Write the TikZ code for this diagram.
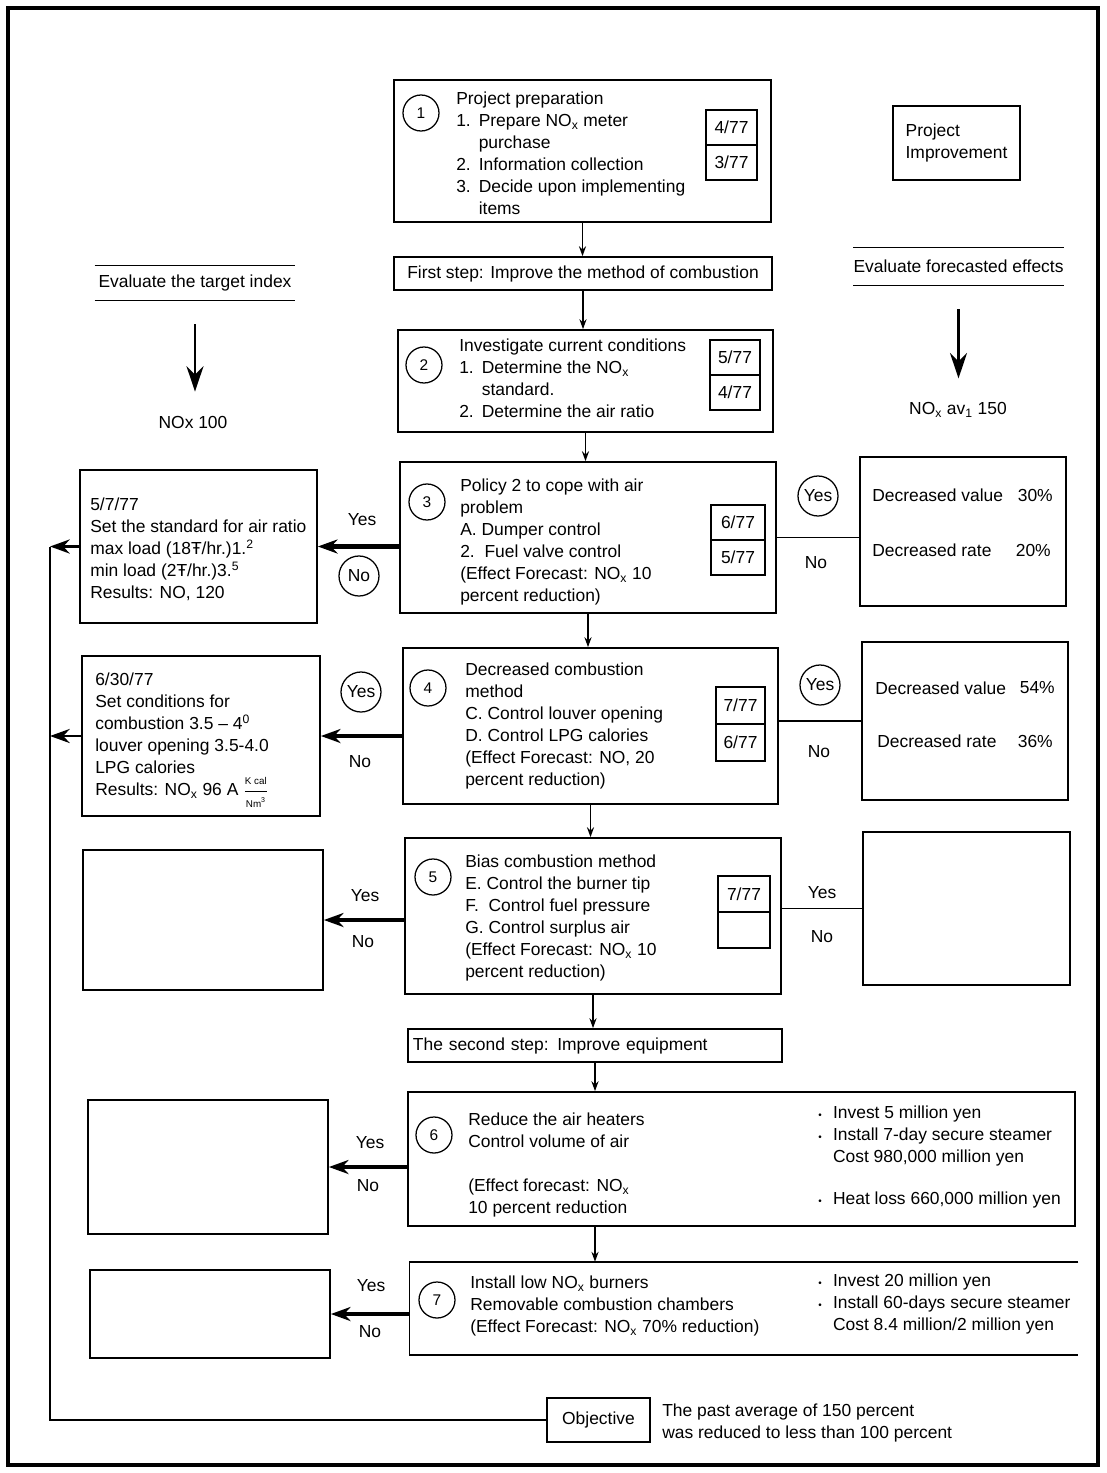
\documentclass[tikz,border=0pt]{standalone}
\usepackage{fontspec}
\setmainfont{Liberation Sans}
\usetikzlibrary{positioning,arrows.meta}

\newcommand{\lnum}[1]{\makebox[16pt][l]{#1}}
\newcommand{\bul}{\makebox[10.5pt][l]{\raisebox{0.5pt}{\scriptsize\textbullet}}}
\newcommand{\NOx}{NO\textsubscript{x}}

\begin{document}
\begin{tikzpicture}[
  x=0.025cm, y=-0.025cm,
  >={Stealth[length=7pt,width=5pt]},
  every node/.style={font=\fontsize{12.4}{15.6}\selectfont,inner sep=0pt},
  box/.style={draw,line width=1.2pt},
  datebox/.style={draw,line width=1.2pt,minimum width=1.3cm,minimum height=0.88cm},
  stepno/.style={circle,draw,line width=0.9pt,minimum size=0.9cm,
                 font=\fontsize{11}{13}\selectfont},
  answer/.style={circle,draw,line width=0.9pt,minimum size=1cm},
  txt/.style={align=left,anchor=north west},
  flow/.style={->,line width=1.3pt},
  result/.style={-{Stealth[length=14pt,width=10pt]},line width=3pt},
  branch/.style={line width=1.4pt},
  feedback/.style={-{Stealth[length=14pt,width=10pt]},line width=2pt},
  evaldown/.style={-{Stealth[length=18pt,width=12pt]},line width=2pt,
                   shorten <=17pt,shorten >=17pt}]

\useasboundingbox (0,0) rectangle (1106,1473);
\draw[line width=2.2pt] (8,8) rectangle (1098,1465);

% ============ Header: target index and forecasted effects ============
\node[minimum width=5cm,minimum height=0.85cm] (evt) at (195,283) {Evaluate the target index};
\draw[line width=1pt] (evt.north west) -- (evt.north east) (evt.south west) -- (evt.south east);
\node (nox100) at (193,422) {NOx 100};
\draw[evaldown] (evt.south) -- (evt.south |- nox100.north);

\node[box,minimum width=3.175cm,minimum height=1.85cm,align=left] (proj) at (956.5,143) {Project\\ Improvement};
\node[minimum width=5.175cm,minimum height=0.925cm] (eff) at (958.5,266.5) {Evaluate forecasted effects};
\draw[line width=1pt] (eff.north west) -- (eff.north east) (eff.south west) -- (eff.south east);
\node (nox150) at (958,410) {NO\textsubscript{x} av\textsubscript{1} 150};
\draw[evaldown] (eff.south) -- (eff.south |- nox150.north);

% ============ Step 1: project preparation ============
\node[box,minimum width=9.425cm,minimum height=3.55cm] (b1) at (582.5,151) {};
\node[stepno] (c1) at (421,113) {1};
\node[txt] (t1) at (456,92) {Project preparation\\ \lnum{1.}Prepare \NOx{} meter\\ \lnum{}purchase\\
  \lnum{2.}Information collection\\ \lnum{3.}Decide upon implementing\\ \lnum{}items};
\node[datebox,minimum width=1.275cm] (d1a) at (731.5,127.5) {4/77};
\node[datebox,minimum width=1.275cm,below=-1.2pt of d1a] (d1b) {3/77};

\node[box,minimum width=9.45cm,minimum height=0.825cm] (first) at (583,273.5) {First step: Improve the method of combustion};
\draw[flow] (b1.south) -- (b1.south |- first.north);

% ============ Step 2: current conditions ============
\node[box,minimum width=9.375cm,minimum height=2.55cm] (b2) at (585.5,381) {};
\node[stepno] (c2) at (424,365) {2};
\node[txt] (t2) at (459,339) {Investigate current conditions\\ \lnum{1.}Determine the \NOx\\ \lnum{}standard.\\
  \lnum{2.}Determine the air ratio};
\node[datebox,minimum width=1.25cm] (d2a) at (735,357.5) {5/77};
\node[datebox,minimum width=1.25cm,below=-1.2pt of d2a] (d2b) {4/77};
\draw[flow] (first.south) -- (first.south |- b2.north);

% ============ Step 3: air problem ============
\node[box,minimum width=9.4cm,minimum height=3.775cm] (b3) at (588,537.5) {};
\node[stepno] (c3) at (427,502) {3};
\node[txt] (t3) at (460,479) {Policy 2 to cope with air\\ problem\\ A.\ Dumper control\\ 2.\ \ Fuel valve control\\
  (Effect Forecast: \NOx{} 10\\ percent reduction)};
\node[datebox,minimum width=1.35cm] (d3a) at (738,522.5) {6/77};
\node[datebox,minimum width=1.35cm,below=-1.2pt of d3a] (d3b) {5/77};
\draw[flow] (b2.south) -- (b2.south |- b3.north);

\node[box,minimum width=5.925cm,minimum height=3.825cm] (l3) at (198.5,546.5) {};
\node[txt] (tl3) at (90,498) {5/7/77\\ Set the standard for air ratio\\ max load (18Ŧ/hr.)1.\textsuperscript{2}\\
  min load (2Ŧ/hr.)3.\textsuperscript{5}\\ Results: NO, 120};
\node (y3l) at (362,520) {Yes};
\node[answer] (n3l) at (359,576) {No};
\draw[result] (l3.east -| b3.west) -- (l3.east);

\node[box,minimum width=5.15cm,minimum height=3.725cm] (r3) at (963,531.5) {};
\node[anchor=west] (v3) at (872,495) {Decreased value};
\node[anchor=east] (pv3) at (1053,495) {30\%};
\node[anchor=west] (q3) at (872,550) {Decreased rate};
\node[anchor=east] (pq3) at (1051,550) {20\%};
\node[answer] (y3r) at (818,496) {Yes};
\node (n3r) at (816,563) {No};
\draw[branch] (b3.east) -- (b3.east -| r3.west);

% ============ Step 4: decreased combustion ============
\node[box,minimum width=9.375cm,minimum height=3.9cm] (b4) at (590.5,726) {};
\node[stepno] (c4) at (428,688) {4};
\node[txt] (t4) at (465,663) {Decreased combustion\\ method\\ C. Control louver opening\\ D. Control LPG calories\\
  (Effect Forecast: NO, 20\\ percent reduction)};
\node[datebox,minimum width=1.225cm,minimum height=0.925cm] (d4a) at (740.5,705.5) {7/77};
\node[datebox,minimum width=1.225cm,minimum height=0.925cm,below=-1.2pt of d4a] (d4b) {6/77};
\draw[flow] (b3.south) -- (b3.south |- b4.north);

\node[box,minimum width=5.95cm,minimum height=4cm] (l4) at (201,736) {};
\node[txt] (tl4) at (95,673) {6/30/77\\ Set conditions for\\ combustion 3.5 -- 4\textsuperscript{0}\\ louver opening 3.5-4.0\\
  LPG calories\\ Results: \NOx{} 96 A ${\displaystyle\frac{\mbox{\scriptsize K cal}}{\mbox{\scriptsize Nm\textsuperscript{3}}}}$};
\node[answer] (y4l) at (361,692) {Yes};
\node (n4l) at (360,762) {No};
\draw[result] (l4.east -| b4.west) -- (l4.east);

\node[box,minimum width=5.15cm,minimum height=3.95cm] (r4) at (965,721) {};
\node[anchor=west] (v4) at (875,688) {Decreased value};
\node[anchor=east] (pv4) at (1055,688) {54\%};
\node[anchor=west] (q4) at (877,741) {Decreased rate};
\node[anchor=east] (pq4) at (1053,741) {36\%};
\node[answer] (y4r) at (820,685) {Yes};
\node (n4r) at (819,752) {No};
\draw[branch] (r4.west -| b4.east) -- (r4.west);

% ============ Step 5: bias combustion ============
\node[box,minimum width=9.4cm,minimum height=3.9cm] (b5) at (593,916) {};
\node[stepno] (c5) at (433,877) {5};
\node[txt] (t5) at (465,855) {Bias combustion method\\ E. Control the burner tip\\ F.\ \ Control fuel pressure\\
  G. Control surplus air\\ (Effect Forecast: \NOx{} 10\\ percent reduction)};
\node[datebox,minimum width=1.3cm,minimum height=0.9cm] (d5a) at (744,894) {7/77};
\node[datebox,minimum width=1.3cm,minimum height=0.9cm,below=-1.2pt of d5a] (d5b) {};
\draw[flow] (b4.south) -- (b4.south |- b5.north);

\node[box,minimum width=6cm,minimum height=3.5cm] (l5) at (203,920) {};
\node (y5l) at (365,896) {Yes};
\node (n5l) at (363,942) {No};
\draw[result] (l5.east -| b5.west) -- (l5.east);

\node[box,minimum width=5.175cm,minimum height=3.825cm] (r5) at (966.5,908.5) {};
\node (y5r) at (822,893) {Yes};
\node (n5r) at (822,937) {No};
\draw[branch] (r5.west -| b5.east) -- (r5.west);

\node[box,minimum height=0.825cm,text width=9.1cm,inner xsep=0.125cm,align=left] (second) at (595,1045.5) {The second step: Improve equipment};
\draw[flow] (b5.south) -- (b5.south |- second.north);

% ============ Step 6: air heaters ============
\node[box,minimum width=16.675cm,minimum height=3.35cm] (b6) at (741.5,1159) {};
\node[stepno] (c6) at (434,1135) {6};
\node[txt] (t6a) at (468,1113) {Reduce the air heaters\\ Control volume of air};
\node[txt] (t6b) at (468,1179) {(Effect forecast: \NOx\\ 10 percent reduction};
\node[txt] (t6c) at (818,1106) {\bul Invest 5 million yen\\ \bul Install 7-day secure steamer\\ \makebox[10.5pt]{}Cost 980,000 million yen};
\node[txt] (t6d) at (818,1192) {\bul Heat loss 660,000 million yen};
\draw[flow] (second.south) -- (second.south |- b6.north);

\node[box,minimum width=6cm,minimum height=3.35cm] (l6) at (208,1167) {};
\node (y6l) at (370,1143) {Yes};
\node (n6l) at (368,1186) {No};
\draw[result] (l6.east -| b6.west) -- (l6.east);

% ============ Step 7: low NOx burners ============
\node[minimum width=16.7cm,minimum height=2.325cm] (b7) at (744,1308.5) {};
\draw[line width=1.2pt] (b7.north east) -- (b7.north west) -- (b7.south west) -- (b7.south east);
\node[stepno] (c7) at (437,1300) {7};
\node[txt] (t7a) at (470,1276) {Install low \NOx{} burners\\ Removable combustion chambers\\ (Effect Forecast: \NOx{} 70\% reduction)};
\node[txt] (t7b) at (818,1274) {\bul Invest 20 million yen\\ \bul Install 60-days secure steamer\\ \makebox[10.5pt]{}Cost 8.4 million/2 million yen};
\draw[flow] (second.south |- b6.south) -- (second.south |- b7.north);

\node[box,minimum width=6cm,minimum height=2.2cm] (l7) at (210,1314) {};
\node (y7l) at (371,1286) {Yes};
\node (n7l) at (370,1332) {No};
\draw[result] (l7.east -| b7.west) -- (l7.east);

% ============ Objective and feedback rail ============
\node[box,minimum width=2.575cm,minimum height=1.1cm] (obj) at (598.5,1420) {Objective};
\node[txt] (tobj) at (662,1404) {The past average of 150 percent\\ was reduced to less than 100 percent};
\coordinate (rail) at (50,1430);
\draw[line width=2pt,line join=miter] (obj.west) -- (obj.west -| rail) -- (l3.west -| rail);
\draw[feedback] (l3.west) -- (l3.west -| rail);
\draw[feedback] (l4.west) -- (l4.west -| rail);

\end{tikzpicture}
\end{document}
